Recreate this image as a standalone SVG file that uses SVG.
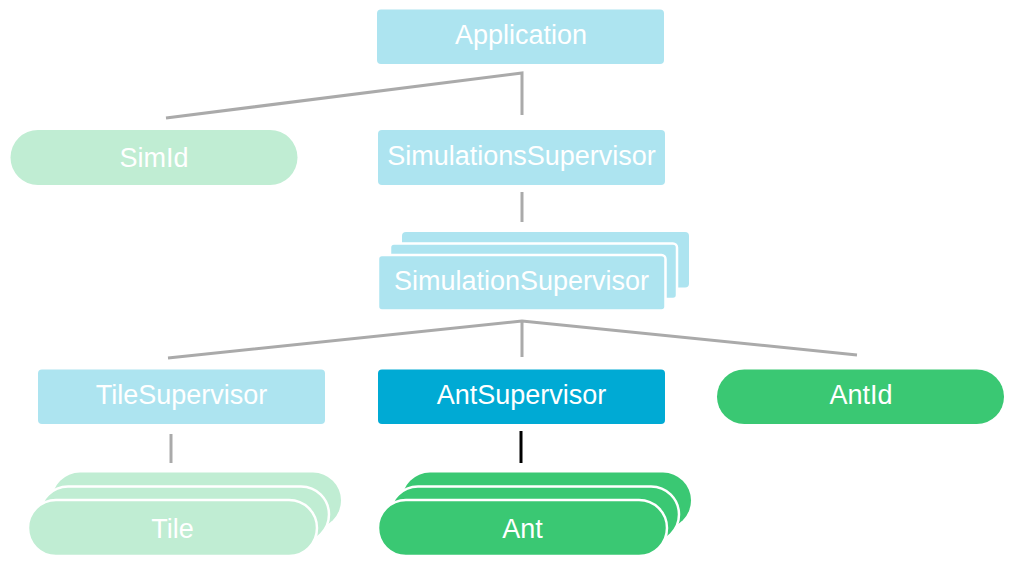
<svg xmlns="http://www.w3.org/2000/svg" width="1015" height="564" viewBox="0 0 1015 564">
<style>
.lb{fill:#ade4f0}
.db{fill:#00aad4}
.lg{fill:#c0edd3}
.g{fill:#3ac873}
.st{stroke:#fff;stroke-width:2.5}
text{font-family:"Liberation Sans",Arial,sans-serif;font-size:27px;fill:#fff;text-anchor:middle}
.c{fill:none;stroke:#aaaaaa;stroke-width:3}
.k{fill:none;stroke:#000;stroke-width:3}
</style>
<rect width="1015" height="564" fill="#fff"/>
<g id="connectors">
<path class="c" d="M166,118 L522,73 L522,115"/>
<path class="c" d="M522,192 L522,222"/>
<path class="c" d="M168,358 L522,321 L857,355 M522,321 L522,357"/>
<path class="c" d="M171,434 L171,463"/>
<path class="k" d="M521,431 L521,463"/>
</g>
<g id="application">
<rect class="lb" x="377" y="9.5" width="287" height="54.5" rx="4"/>
<text x="521" y="44">Application</text>
</g>
<g id="simid">
<rect class="lg" x="10.5" y="130" width="287" height="55" rx="27.5"/>
<text x="154" y="167">SimId</text>
</g>
<g id="simulationssupervisor">
<rect class="lb" x="378" y="130" width="287" height="55" rx="4"/>
<text x="521.5" y="165">SimulationsSupervisor</text>
</g>
<g id="simulationsupervisor">
<rect class="lb" x="402" y="232" width="287" height="55.5" rx="4"/>
<rect class="lb st" x="390" y="243.5" width="287" height="55.5" rx="4"/>
<rect class="lb st" x="378" y="255" width="287.5" height="55.5" rx="4"/>
<text x="521.5" y="290">SimulationSupervisor</text>
</g>
<g id="tilesupervisor">
<rect class="lb" x="38" y="369.5" width="287" height="54.5" rx="4"/>
<text x="181.5" y="404">TileSupervisor</text>
</g>
<g id="antsupervisor">
<rect class="db" x="378" y="369.5" width="287" height="54.5" rx="4"/>
<text x="521.5" y="404">AntSupervisor</text>
</g>
<g id="antid">
<rect class="g" x="717" y="369.5" width="287" height="54.5" rx="27.25"/>
<text x="861" y="404">AntId</text>
</g>
<g id="tile">
<rect class="lg" x="52" y="472.5" width="289" height="56" rx="28"/>
<rect class="lg st" x="40" y="486.5" width="289" height="56" rx="28"/>
<rect class="lg st" x="28" y="500" width="289" height="56" rx="28"/>
<text x="172.5" y="537.5">Tile</text>
</g>
<g id="ant">
<rect class="g" x="402" y="472.5" width="289" height="56" rx="28"/>
<rect class="g st" x="390" y="486.5" width="289" height="56" rx="28"/>
<rect class="g st" x="378" y="500" width="289" height="56" rx="28"/>
<text x="522.5" y="537.5">Ant</text>
</g>
</svg>
